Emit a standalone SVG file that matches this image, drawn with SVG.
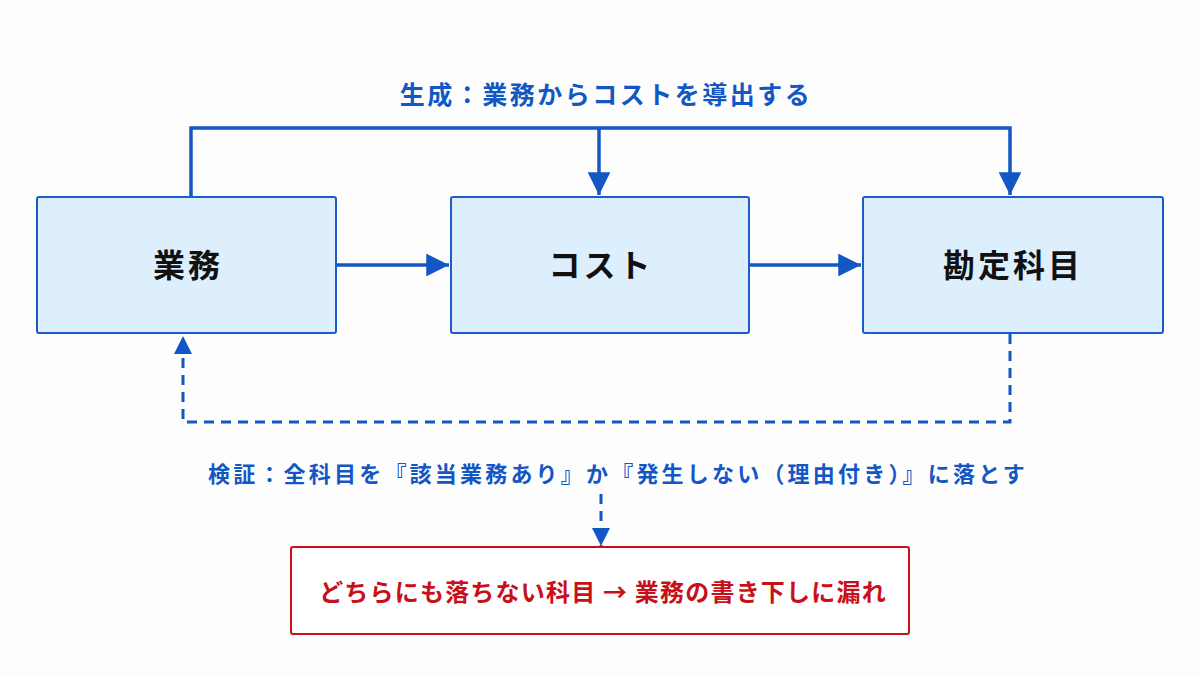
<svg xmlns="http://www.w3.org/2000/svg" width="1200" height="675" viewBox="0 0 1200 675">
<defs>
<style>
.node{fill:#ddeefc;stroke:#1a5cc8;stroke-width:2}
.lbl{font-family:"Noto Sans CJK JP",sans-serif;font-weight:700;font-size:32px;fill:#111;text-anchor:middle;letter-spacing:3px}
.blue{font-family:"Noto Sans CJK JP",sans-serif;font-weight:700;fill:#1357c4;text-anchor:middle}
.red{font-family:"Noto Sans CJK JP",sans-serif;font-weight:700;fill:#c8101a;text-anchor:middle}
.ln{fill:none;stroke:#1357c4;stroke-width:3.5}
.dash{fill:none;stroke:#1357c4;stroke-width:3;stroke-dasharray:10 7}
</style>
<marker id="ah" viewBox="0 0 10 10" refX="10" refY="5" markerWidth="6.5" markerHeight="6.5" markerUnits="strokeWidth" orient="auto"><path d="M0,0L10,5L0,10z" fill="#1357c4"/></marker>
<marker id="ahs" viewBox="0 0 10 10" refX="10" refY="5" markerWidth="6" markerHeight="6" markerUnits="strokeWidth" orient="auto"><path d="M0,0L10,5L0,10z" fill="#1357c4"/></marker>
</defs>
<rect width="1200" height="675" fill="#fdfdfe"/>
<g id="connectors">
<path class="ln" d="M191,197V128H1010V195" marker-end="url(#ah)"/>
<path class="ln" d="M599,128V195" marker-end="url(#ah)"/>
<path class="ln" d="M337,265H449" marker-end="url(#ah)"/>
<path class="ln" d="M750,265H861" marker-end="url(#ah)"/>
<path class="dash" d="M1010,334V422H183V336" marker-end="url(#ahs)"/>
<path class="dash" d="M601,494V546" marker-end="url(#ahs)"/>
</g>
<g id="title"><text class="blue" x="606" y="104" font-size="25" letter-spacing="2.5">生成：業務からコストを導出する</text></g>
<g id="n1"><rect class="node" x="37" y="197" width="299" height="136" rx="2"/><text class="lbl" x="188" y="277">業務</text></g>
<g id="n2"><rect class="node" x="451" y="197" width="298" height="136" rx="2"/><text class="lbl" x="601" y="277">コスト</text></g>
<g id="n3"><rect class="node" x="863" y="197" width="300" height="136" rx="2"/><text class="lbl" x="1013" y="277">勘定科目</text></g>
<g id="verify"><text class="blue" x="618" y="482" font-size="22" letter-spacing="3.2">検証：全科目を『該当業務あり』か『発生しない（理由付き）』に落とす</text></g>
<g id="n4"><rect x="291" y="547" width="618" height="87" rx="2" fill="#fff" stroke="#c8101a" stroke-width="2"/><text class="red" x="603" y="601" font-size="24" letter-spacing="1.2">どちらにも落ちない科目 → 業務の書き下しに漏れ</text></g>
</svg>
